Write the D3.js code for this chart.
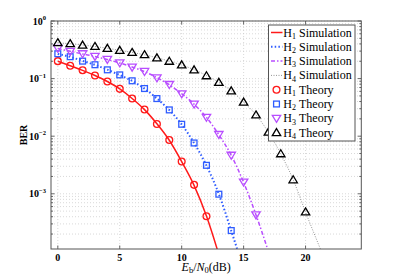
<!DOCTYPE html>
<html>
<head>
<meta charset="utf-8">
<script src="https://cdn.jsdelivr.net/npm/d3@7"></script>
<style>
body { margin: 0; background: #fff; }
text { font-family: "Liberation Serif", "Times New Roman", serif; }
</style>
</head>
<body>
<script>
// Eb/N0 in dB, shared by all series (index i -> ebno[i])
var ebno = [0, 1, 2, 3, 4, 5, 6, 7, 8, 9, 10, 11, 12, 13, 14, 15, 16, 17, 18, 19, 20, 21, 22];

// BER
var h1Theory = [0.201, 0.167, 0.140, 0.113, 0.089, 0.0664, 0.0450, 0.0290, 0.0163, 0.0086, 0.00364, 0.00143, 0.000407];
var h1Sim = [0.200, 0.167, 0.139, 0.113, 0.089, 0.0662, 0.0452, 0.0289, 0.0164, 0.0085, 0.00362, 0.00140, 0.000410, 0.000088];

var h2Theory = [0.270, 0.240, 0.201, 0.174, 0.142, 0.116, 0.0916, 0.0672, 0.0450, 0.0286, 0.0161, 0.00762, 0.00312, 0.000984, 0.000230];
var h2Sim = [0.268, 0.238, 0.203, 0.173, 0.143, 0.115, 0.0910, 0.0670, 0.0452, 0.0285, 0.0160, 0.00760, 0.00310, 0.000990, 0.000228, 0.000049];

var h3Theory = [0.335, 0.297, 0.270, 0.243, 0.215, 0.188, 0.158, 0.133, 0.103, 0.0789, 0.0544, 0.0361, 0.0213, 0.0107, 0.00467, 0.00160, 0.000429];
var h3Sim = [0.333, 0.298, 0.268, 0.242, 0.214, 0.187, 0.159, 0.132, 0.104, 0.0785, 0.0546, 0.0360, 0.0212, 0.0106, 0.00465, 0.00158, 0.000430, 0.000100];

var h4Theory = [0.420, 0.404, 0.382, 0.362, 0.335, 0.309, 0.285, 0.260, 0.229, 0.200, 0.173, 0.142, 0.112, 0.0862, 0.0613, 0.0391, 0.0234, 0.0118, 0.00496, 0.00175, 0.000484];
var h4Sim = [0.418, 0.403, 0.383, 0.360, 0.336, 0.310, 0.284, 0.259, 0.230, 0.201, 0.172, 0.143, 0.113, 0.0860, 0.0615, 0.0390, 0.0235, 0.0117, 0.00494, 0.00176, 0.000480, 0.000140, 0.000042];

var xTicks = [0, 5, 10, 15, 20];
var yDecades = [0, -1, -2, -3];

var series = [
  { sub: "1", sim: h1Sim, theory: h1Theory, color: "#ff1a1a", dash: null, width: 1.5, marker: "circle" },
  { sub: "2", sim: h2Sim, theory: h2Theory, color: "#2f5cff", dash: "1.5,2.2", width: 2, marker: "square" },
  { sub: "3", sim: h3Sim, theory: h3Theory, color: "#b84dff", dash: "4,2,1.5,2", width: 1.5, marker: "tridown" },
  { sub: "4", sim: h4Sim, theory: h4Theory, color: "#000000", dash: "1,1.5", width: 0.8, marker: "triup" }
];

var svgWidth = 399, svgHeight = 280;
var plotLeft = 51, plotRight = 361.3, plotTop = 21, plotBottom = 249;

var svg = d3.select("body").append("svg")
  .attr("width", svgWidth)
  .attr("height", svgHeight);

var x = d3.scaleLinear().domain([-0.55, 24.5]).range([plotLeft, plotRight]);
var y = d3.scaleLog().domain([1.1e-4, 1]).range([plotBottom, plotTop]);

svg.append("clipPath").attr("id", "plot")
  .append("rect")
  .attr("x", plotLeft).attr("y", plotTop)
  .attr("width", plotRight - plotLeft).attr("height", plotBottom - plotTop);

// y grid values: 1..9 x 10^k inside the domain
var yGrid = [];
[-4, -3, -2, -1].forEach(function(k) {
  for (var m = 1; m <= 9; m++) {
    var v = m * Math.pow(10, k);
    if (v >= 1.1e-4 && v <= 1) yGrid.push(v);
  }
});
yGrid.push(1);

var grid = svg.append("g").attr("stroke", "#c8c8c8").attr("stroke-width", 0.7).attr("stroke-dasharray", "1,2");
grid.selectAll(".gy").data(yGrid).enter().append("line")
  .attr("x1", plotLeft).attr("x2", plotRight)
  .attr("y1", d => y(d)).attr("y2", d => y(d));
grid.selectAll(".gx").data(xTicks).enter().append("line")
  .attr("y1", plotTop).attr("y2", plotBottom)
  .attr("x1", d => x(d)).attr("x2", d => x(d));

// ticks on all four sides (inward)
var ticks = svg.append("g").attr("stroke", "#444").attr("stroke-width", 0.8);
xTicks.forEach(function(t) {
  ticks.append("line").attr("x1", x(t)).attr("x2", x(t)).attr("y1", plotBottom).attr("y2", plotBottom - 3.5);
  ticks.append("line").attr("x1", x(t)).attr("x2", x(t)).attr("y1", plotTop).attr("y2", plotTop + 3.5);
});
yGrid.forEach(function(v) {
  var major = Math.abs(Math.log10(v) - Math.round(Math.log10(v))) < 1e-9;
  var len = major ? 3.5 : 2;
  ticks.append("line").attr("x1", plotLeft).attr("x2", plotLeft + len).attr("y1", y(v)).attr("y2", y(v));
  ticks.append("line").attr("x1", plotRight).attr("x2", plotRight - len).attr("y1", y(v)).attr("y2", y(v));
});

// x tick labels
svg.append("g").selectAll("text").data(xTicks).enter().append("text")
  .attr("x", d => x(d)).attr("y", plotBottom + 11.5)
  .attr("text-anchor", "middle")
  .attr("font-size", 10).attr("font-weight", "bold")
  .text(d => d);

// y tick labels 10^k
var yl = svg.append("g").selectAll("text").data(yDecades).enter().append("text")
  .attr("x", 46).attr("y", d => y(Math.pow(10, d)) + 3.5)
  .attr("text-anchor", "end")
  .attr("font-size", 10).attr("font-weight", "bold");
yl.append("tspan").text("10");
yl.append("tspan").attr("dy", -4.5).attr("font-size", 6.5).text(d => d === 0 ? "0" : "\u2212" + (-d));

// axis titles
svg.append("text")
  .attr("transform", "translate(27," + ((plotTop + plotBottom) / 2) + ") rotate(-90)")
  .attr("text-anchor", "middle")
  .attr("font-size", 10).attr("font-weight", "bold")
  .text("BER");

var xl = svg.append("text")
  .attr("x", (plotLeft + plotRight) / 2).attr("y", 270.5)
  .attr("text-anchor", "middle")
  .attr("font-size", 12);
xl.append("tspan").attr("font-style", "italic").text("E");
xl.append("tspan").attr("font-size", 8.5).attr("dy", 2).text("b");
xl.append("tspan").attr("dy", -2).text("/");
xl.append("tspan").attr("font-style", "italic").text("N");
xl.append("tspan").attr("font-size", 8.5).attr("dy", 2).text("0");
xl.append("tspan").attr("dy", -2).text("(dB)");

// markers
function drawMarker(g, type, color) {
  if (type === "circle") {
    g.append("circle").attr("r", 3.4);
  } else if (type === "square") {
    g.append("rect").attr("x", -2.9).attr("y", -2.9).attr("width", 5.8).attr("height", 5.8);
  } else if (type === "triup") {
    g.append("path").attr("d", "M0,-4L4.2,3L-4.2,3Z");
  } else {
    g.append("path").attr("d", "M0,4L4.2,-3L-4.2,-3Z");
  }
  g.attr("fill", "none").attr("stroke", color).attr("stroke-width", 1.3);
}

var line = d3.line()
  .x((d, i) => x(ebno[i]))
  .y(d => y(d))
  .curve(d3.curveMonotoneX);

var plot = svg.append("g").attr("clip-path", "url(#plot)");
series.forEach(function(s) {
  plot.append("path")
    .attr("d", line(s.sim))
    .attr("fill", "none")
    .attr("stroke", s.marker === "triup" ? "#777" : s.color)
    .attr("stroke-width", s.width)
    .attr("stroke-dasharray", s.dash);
});
series.forEach(function(s) {
  s.theory.forEach(function(v, i) {
    var g = plot.append("g").attr("transform", "translate(" + x(ebno[i]) + "," + y(v) + ")");
    drawMarker(g, s.marker, s.color);
  });
});

// box
svg.append("rect")
  .attr("x", plotLeft).attr("y", plotTop)
  .attr("width", plotRight - plotLeft).attr("height", plotBottom - plotTop)
  .attr("fill", "none").attr("stroke", "#555").attr("stroke-width", 1);

// legend
var lg = svg.append("g");
lg.append("rect")
  .attr("x", 268.5).attr("y", 25)
  .attr("width", 86.5).attr("height", 116)
  .attr("fill", "#fff").attr("stroke", "#555").attr("stroke-width", 1);

var rowY = 32.5, rowStep = 14.3;
function legendText(yy, sub, word) {
  var t = lg.append("text").attr("x", 283.3).attr("y", yy + 4).attr("font-size", 12);
  t.append("tspan").text("H");
  t.append("tspan").attr("font-size", 8).attr("dy", 2.2).text(sub);
  t.append("tspan").attr("dy", -2.2).text("\u00a0" + word);
}
series.forEach(function(s, i) {
  var yy = rowY + i * rowStep;
  lg.append("line")
    .attr("x1", 271).attr("x2", 282.5).attr("y1", yy).attr("y2", yy)
    .attr("stroke", s.marker === "triup" ? "#777" : s.color)
    .attr("stroke-width", s.width)
    .attr("stroke-dasharray", s.dash);
  legendText(yy, s.sub, "Simulation");
});
series.forEach(function(s, i) {
  var yy = rowY + (i + 4) * rowStep;
  var g = lg.append("g").attr("transform", "translate(276.5," + yy + ")");
  drawMarker(g, s.marker, s.color);
  legendText(yy, s.sub, "Theory");
});
</script>
</body>
</html>
